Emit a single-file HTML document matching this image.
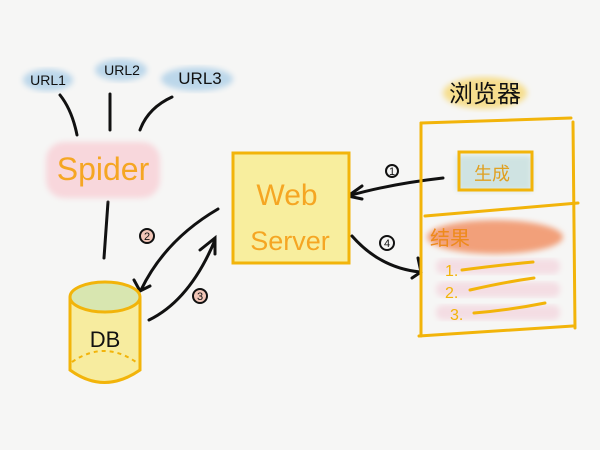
<!DOCTYPE html>
<html><head><meta charset="utf-8"><style>
html,body{margin:0;padding:0;background:#f6f6f5;}
svg{display:block}
text{font-family:"Liberation Sans","Noto Sans CJK SC",sans-serif}
</style></head><body>
<svg width="600" height="450" viewBox="0 0 600 450" xmlns="http://www.w3.org/2000/svg">
<defs>
<filter id="blur"><feGaussianBlur stdDeviation="3"/></filter>
</defs>
<rect width="600" height="450" fill="#f6f6f5"/>
<ellipse cx="48" cy="80" rx="25" ry="11" fill="#bcd7ea" filter="url(#blur)"/>
<ellipse cx="121" cy="70" rx="26" ry="11" fill="#bcd7ea" filter="url(#blur)"/>
<ellipse cx="197" cy="79" rx="36" ry="12" fill="#bcd7ea" filter="url(#blur)"/>
<text x="48" y="85" font-size="14" text-anchor="middle" fill="#111">URL1</text>
<text x="122" y="75" font-size="14" text-anchor="middle" fill="#111">URL2</text>
<text x="200" y="84" font-size="17" text-anchor="middle" fill="#111">URL3</text>
<g stroke="#111" stroke-width="3" fill="none" stroke-linecap="round">
<path d="M60 95 Q72 110 77 135"/>
<path d="M110 94 L110 130"/>
<path d="M172 97 Q148 108 140 130"/>
<path d="M108 202 L104 258"/>
<path d="M218 209 Q165 240 141 290"/>
<path d="M134 280 L140 291 L150 286"/>
<path d="M149 320 Q190 300 215 240"/>
<path d="M200 250 L215 238 L215 254"/>
<path d="M443 178 Q390 184 348 196"/>
<path d="M362 186 L348 196 L362 199"/>
<path d="M352 236 Q380 268 420 272"/>
<path d="M418 258 L421 272 L412 278"/>
</g>
<rect x="46" y="142" width="114" height="56" rx="18" fill="#f8d7dc" filter="url(#blur)"/>
<text x="103" y="180" font-size="32" text-anchor="middle" fill="#f5a623">Spider</text>
<g font-size="11" text-anchor="middle" fill="#111">
<circle cx="147" cy="236" r="7" fill="#f2c6b8" stroke="#111" stroke-width="2"/><text x="147" y="240">2</text>
<circle cx="200" cy="296" r="7" fill="#f2c6b8" stroke="#111" stroke-width="2"/><text x="200" y="300">3</text>
<circle cx="392" cy="171" r="6" fill="none" stroke="#111" stroke-width="2"/><text x="392" y="175">1</text>
<circle cx="387" cy="243" r="7" fill="none" stroke="#111" stroke-width="2"/><text x="387" y="247">4</text>
</g>
<path d="M70 298 L70 370 Q104 395 140 370 L140 298 Z" fill="#f7ec9f" stroke="#f2b40a" stroke-width="3"/>
<ellipse cx="105" cy="297" rx="35" ry="15" fill="#d8e6b0" stroke="#f2b40a" stroke-width="3"/>
<path d="M72 362 Q104 340 136 362" fill="none" stroke="#f2b40a" stroke-width="2" stroke-dasharray="4 4"/>
<text x="105" y="347" font-size="22" text-anchor="middle" fill="#111">DB</text>
<rect x="233" y="153" width="116" height="110" fill="#f8ee9e" stroke="#f2b40a" stroke-width="3"/>
<text x="287" y="205" font-size="30" text-anchor="middle" fill="#f5a623">Web</text>
<text x="290" y="250" font-size="27" text-anchor="middle" fill="#f5a623">Server</text>
<ellipse cx="485" cy="93" rx="42" ry="16" fill="#f6de8e" filter="url(#blur)"/>
<text x="485" y="102" font-size="24" text-anchor="middle" fill="#111">浏览器</text>
<rect x="457" y="155" width="75" height="36" fill="#cfe3e2" filter="url(#blur)"/>
<rect x="459" y="152" width="73" height="38" fill="none" stroke="#f2b40a" stroke-width="3"/>
<text x="492" y="180" font-size="18" text-anchor="middle" fill="#e0a020">生成</text>
<ellipse cx="495" cy="237" rx="68" ry="17" fill="#f2a07a" filter="url(#blur)"/>
<rect x="436" y="259" width="124" height="15" rx="7" fill="#f4dde3" filter="url(#blur)"/>
<rect x="436" y="282" width="124" height="15" rx="7" fill="#f4dde3" filter="url(#blur)"/>
<rect x="436" y="305" width="124" height="15" rx="7" fill="#f4dde3" filter="url(#blur)"/>
<text x="430" y="245" font-size="20" fill="#ee8a1c">结果</text>
<g fill="#f2b40a" font-size="16"><text x="445" y="276">1.</text><text x="445" y="298">2.</text><text x="450" y="320">3.</text></g>
<g stroke="#f2b40a" stroke-width="3" fill="none" stroke-linecap="round">
<path d="M462 270 Q500 265 533 262"/>
<path d="M470 290 Q505 282 534 278"/>
<path d="M474 313 Q510 310 545 303"/>
<path d="M421 123 L571 118"/>
<path d="M421 123 L421 336"/>
<path d="M573 122 L575 328"/>
<path d="M419 336 L573 326"/>
<path d="M425 216 L578 203"/>
</g>
</svg>
</body></html>
